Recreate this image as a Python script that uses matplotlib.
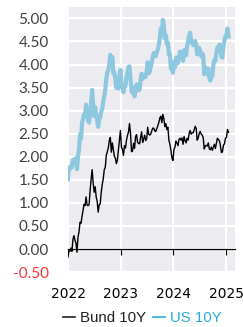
import matplotlib
matplotlib.use("Agg")
import matplotlib.pyplot as plt
import matplotlib.dates as mdates
from matplotlib.lines import Line2D
import pandas as pd

# Weekly closes (Fridays) starting 2021-12-31
us10y = [
    1.51,
    # 2022
    1.77, 1.78, 1.75, 1.78,
    1.93, 1.94, 1.92, 1.97,
    1.73, 2.00, 2.15, 2.48,
    2.39, 2.72, 2.83, 2.92, 2.89,
    3.13, 2.93, 2.78, 2.74,
    2.94, 3.16, 3.45, 3.13,
    2.88, 3.08, 2.93, 2.78, 2.65,
    2.83, 2.85, 2.98, 3.04,
    3.19, 3.32, 3.45, 3.69, 3.83,
    3.88, 4.01, 4.21, 4.01,
    4.16, 3.81, 3.83, 3.68,
    3.49, 3.58, 3.48, 3.75, 3.88,
    # 2023
    3.56, 3.51, 3.40, 3.51,
    3.53, 3.74, 3.82, 3.95,
    3.96, 3.70, 3.43, 3.38, 3.48,
    3.31, 3.51, 3.57, 3.44,
    3.44, 3.46, 3.67, 3.80,
    3.69, 3.74, 3.76, 3.73, 3.84,
    4.05, 3.81, 3.84, 3.95,
    4.03, 4.16, 4.25, 4.24,
    4.18, 4.26, 4.33, 4.43, 4.57,
    4.78, 4.63, 4.97, 4.84,
    4.57, 4.63, 4.44, 4.47,
    4.22, 4.23, 3.91, 3.90, 3.82,
    # 2024
    4.05, 3.94, 4.15, 4.14,
    4.03, 4.18, 4.28, 4.25,
    4.18, 4.08, 4.31, 4.22, 4.20,
    4.39, 4.50, 4.62, 4.69,
    4.50, 4.50, 4.42, 4.46, 4.51,
    4.43, 4.22, 4.26, 4.36,
    4.28, 4.18, 4.24, 4.20,
    3.79, 3.94, 3.89, 3.80, 3.91,
    3.72, 3.65, 3.73, 3.75,
    3.98, 4.10, 4.08, 4.24,
    4.37, 4.31, 4.43, 4.41, 4.17,
    4.15, 4.40, 4.52, 4.62,
    # 2025
    4.60, 4.78, 4.61,
]

bund10y = [
    -0.18,
    # 2022
    -0.04, -0.05, 0.02, -0.05,
    0.21, 0.29, 0.19, 0.13,
    -0.07, 0.26, 0.37, 0.58,
    0.56, 0.71, 0.84, 0.97, 0.94,
    1.13, 0.95, 0.94, 0.96,
    1.27, 1.51, 1.72, 1.44,
    1.23, 1.35, 1.13, 1.03, 0.80,
    0.96, 0.98, 1.23, 1.40,
    1.52, 1.72, 1.77, 2.03, 2.11,
    2.19, 2.35, 2.42, 2.10,
    2.30, 2.16, 2.01, 1.97,
    1.85, 1.93, 2.15, 2.36, 2.57,
    # 2023
    2.21, 2.16, 2.03, 2.24,
    2.19, 2.36, 2.46, 2.54,
    2.72, 2.50, 2.11, 2.13, 2.29,
    2.18, 2.44, 2.48, 2.31,
    2.29, 2.28, 2.43, 2.54,
    2.31, 2.38, 2.47, 2.35, 2.39,
    2.64, 2.49, 2.47, 2.49,
    2.56, 2.62, 2.62, 2.56,
    2.55, 2.61, 2.67, 2.74, 2.84,
    2.88, 2.74, 2.92, 2.83,
    2.65, 2.72, 2.59, 2.64,
    2.36, 2.27, 2.14, 1.97, 1.92,
    # 2024
    2.16, 2.21, 2.34, 2.30,
    2.24, 2.38, 2.40, 2.36,
    2.41, 2.27, 2.44, 2.35, 2.30,
    2.40, 2.36, 2.50, 2.57,
    2.49, 2.52, 2.52, 2.58, 2.66,
    2.62, 2.36, 2.41, 2.50,
    2.55, 2.49, 2.47, 2.41,
    2.17, 2.23, 2.25, 2.23, 2.30,
    2.17, 2.15, 2.21, 2.14,
    2.21, 2.27, 2.18, 2.29,
    2.40, 2.37, 2.35, 2.24, 2.09,
    2.11, 2.25, 2.28, 2.40,
    # 2025
    2.42, 2.59, 2.53,
]

series_labels = ["Bund 10Y", "US 10Y"]
y_ticks = [-0.5, 0.0, 0.5, 1.0, 1.5, 2.0, 2.5, 3.0, 3.5, 4.0, 4.5, 5.0]
x_years = [2022, 2023, 2024, 2025]

dates = pd.date_range(start="2021-12-31", periods=len(us10y), freq="W-FRI")

fig = plt.figure(figsize=(2.43, 3.27), dpi=100)
ax = fig.add_axes([0.280, 0.168, 0.687, 0.811])
ax.set_facecolor("#EBEBF0")

ax.plot(dates, us10y, color="#8DC7E0", lw=3.0, solid_joinstyle="round", zorder=3)
ax.plot(dates, bund10y, color="black", lw=1.0, zorder=4)

ax.set_ylim(-0.5, 5.25)
ax.set_xlim(pd.Timestamp("2022-01-01"), pd.Timestamp("2025-03-03"))

ax.set_yticks(y_ticks)
ax.set_yticklabels([f"{v:.2f}" for v in y_ticks], fontfamily="Lato", fontsize=11)
for lbl, v in zip(ax.get_yticklabels(), y_ticks):
    lbl.set_color("#FF3333" if v < 0 else "#404040")
ax.tick_params(axis="y", length=0, pad=14)

ax.set_xticks([pd.Timestamp(f"{y}-01-01") for y in x_years])
ax.set_xticklabels([str(y) for y in x_years], fontfamily="Liberation Sans",
                   fontsize=11.5, color="#222222")
ax.tick_params(axis="x", direction="out", length=4, width=0.8, color="black", pad=23)

ax.grid(True, color="white", lw=1.6, zorder=0)
ax.set_axisbelow(True)
for s in ["top", "right", "left"]:
    ax.spines[s].set_visible(False)
ax.spines["bottom"].set_position(("data", 0))
ax.spines["bottom"].set_color("black")
ax.spines["bottom"].set_linewidth(0.9)
ax.spines["bottom"].set_zorder(5)

handles = [Line2D([0], [0], color="#222222", lw=1.2),
           Line2D([0], [0], color="#29ABE2", lw=1.2)]
leg = fig.legend(handles, series_labels, loc="center", bbox_to_anchor=(0.585, 1 - 318 / 327),
                 ncol=2, frameon=False, handlelength=0.85, handletextpad=0.3,
                 columnspacing=0.45, prop={"family": "Liberation Sans", "size": 10.8})
leg.get_texts()[0].set_color("#222222")
leg.get_texts()[1].set_color("#29ABE2")

fig.savefig("out.png", dpi=100)
